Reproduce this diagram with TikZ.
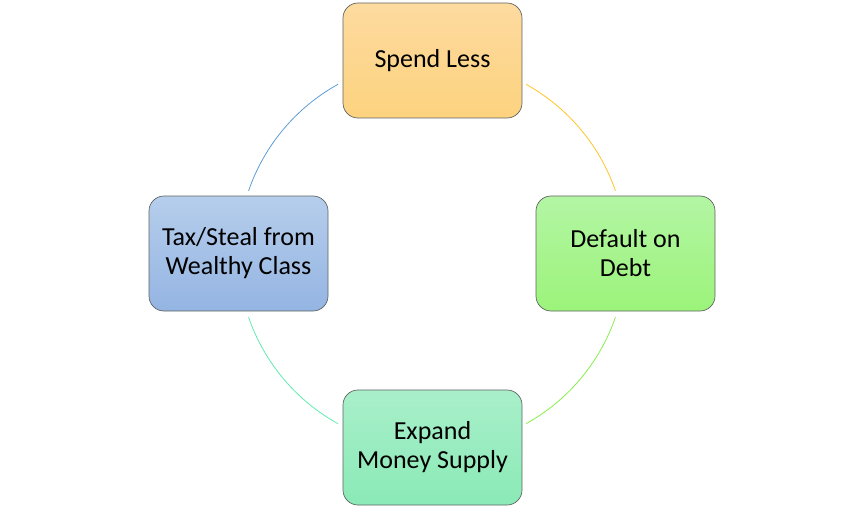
\documentclass[tikz,border=0pt]{standalone}
\usepackage{fontspec}
\setmainfont{Carlito}
\usetikzlibrary{shadings}
\definecolor{orT}{HTML}{FDDA9F}
\definecolor{orB}{HTML}{FDD37F}
\definecolor{grT}{HTML}{B3F5A4}
\definecolor{grB}{HTML}{9CF47A}
\definecolor{tlT}{HTML}{A9EFCA}
\definecolor{tlB}{HTML}{8AEAB6}
\definecolor{blT}{HTML}{B6CEEC}
\definecolor{blB}{HTML}{94B4E2}
\definecolor{edge}{HTML}{5E6462}
\definecolor{arcOr}{HTML}{FFC524}
\definecolor{arcGr}{HTML}{86EE4A}
\definecolor{arcTl}{HTML}{5FEBB0}
\definecolor{arcBl}{HTML}{5B9BD5}
\begin{document}
\begin{tikzpicture}[x=1pt,y=-1pt,
  box/.style={draw=edge, line width=0.7pt, rounded corners=15pt,
    minimum width=179pt, minimum height=115pt, align=center,
    font=\fontsize{26}{29}\selectfont, inner sep=0pt},
  ring/.style={line width=0.8pt}]
\useasboundingbox (0,0) rectangle (864,508);
\coordinate (c) at (432,254);
\node[box, top color=orT, bottom color=orB] (spend) at (432.5,60.5) {Spend Less};
\node[box, top color=grT, bottom color=grB] (default) at (625.5,253.5) {Default on\\Debt};
\node[box, top color=tlT, bottom color=tlB] (expand) at (432.5,447.5) {Expand\\Money Supply};
\node[box, top color=blT, bottom color=blB] (tax) at (238.5,253.5) {Tax/Steal from\\Wealthy Class};
\draw[ring, arcOr] (c) ++(-61:194) arc[start angle=-61, end angle=-19, radius=194];
\draw[ring, arcGr] (c) ++(19:194) arc[start angle=19, end angle=61, radius=194];
\draw[ring, arcTl] (c) ++(119:194) arc[start angle=119, end angle=161, radius=194];
\draw[ring, arcBl] (c) ++(199:194) arc[start angle=199, end angle=241, radius=194];
\end{tikzpicture}
\end{document}
